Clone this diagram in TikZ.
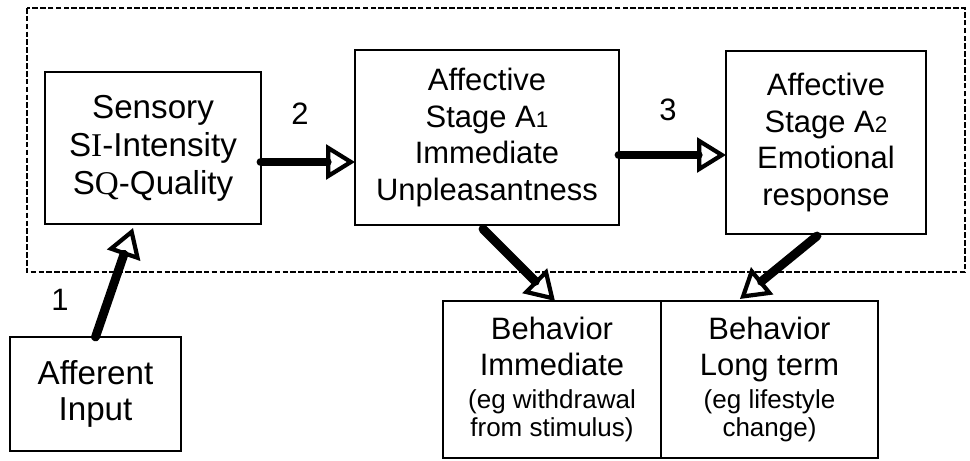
\documentclass[tikz,border=0pt]{standalone}
\usepackage{fontspec}
\setmainfont{Liberation Sans}
\newfontfamily\serifI{Liberation Serif}
\usetikzlibrary{arrows.meta}
\newcommand\subnum[1]{{\fontsize{16}{16}\selectfont #1}}
\newcommand\egfont{\fontsize{18.5}{20.5}\selectfont}
\newcommand\bigfont{\fontsize{23.6}{27}\selectfont}

\begin{document}
\begin{tikzpicture}[
  font=\fontsize{22}{26}\selectfont,
  box/.style={draw, line width=1pt, align=center, inner sep=2pt, outer sep=0pt},
  flow/.style={line width=6.3pt, line cap=round,
    -{Triangle[open, length=0.72cm, width=0.86cm, line width=3pt]}}]
\useasboundingbox (0,0) rectangle (24.25,-11.525);
% dashed frame
\draw[line width=1.3pt, dash pattern=on 4pt off 1.6pt] (0.675,-0.2) rectangle (24.125,-6.8);
\node[box, font=\bigfont, minimum width=5.4cm, minimum height=3.8cm] (sensory) at (3.825,-3.7)
  {Sensory\\S{\serifI I}-Intensity\\S{\serifI Q}-Quality};
\node[box, minimum width=6.6cm, minimum height=4.375cm] (stageA1) at (12.175,-3.4375)
  {Affective\\Stage A\subnum{1}\\Immediate\\Unpleasantness};
\node[box, minimum width=5cm, minimum height=4.575cm] (stageA2) at (20.65,-3.5625)
  {Affective\\Stage A\subnum{2}\\Emotional\\response};
\node[box, font=\bigfont, minimum width=4.275cm, minimum height=2.85cm] (afferent) at (2.3875,-9.85)
  {Afferent\\[-2pt]Input};
\node[box, minimum width=5.45cm, minimum height=3.925cm] (behImm) at (13.8,-9.4875)
  {Behavior\\Immediate\\[-3pt]{\egfont (eg withdrawal}\\[-5.5pt]{\egfont from stimulus)}};
\node[box, minimum width=5.425cm, minimum height=3.925cm] (behLong) at (19.2375,-9.4875)
  {Behavior\\Long term\\[-3pt]{\egfont (eg lifestyle}\\[-5.5pt]{\egfont change)}};
% arrows
\draw[flow] (afferent.north) -- ([xshift=-0.5cm,yshift=-0.1cm]sensory.south);
\draw[flow] ([yshift=-0.35cm]sensory.east) -- ([yshift=-0.35cm]sensory.east -| stageA1.west);
\draw[flow] ([yshift=-0.4375cm]stageA1.east) -- ([yshift=-0.4375cm]stageA1.east -| stageA2.west);
\draw[flow] ([xshift=-0.1cm,yshift=-0.1cm]stageA1.south) -- ([xshift=0.075cm]behImm.north);
\draw[flow] ([xshift=-0.225cm,yshift=-0.05cm]stageA2.south) -- ([xshift=-0.74cm,yshift=0.05cm]behLong.north);
% numbers
\node (n1) at (1.5,-7.5) {1};
\node (n2) at (7.5,-2.85) {2};
\node (n3) at (16.7,-2.75) {3};
\end{tikzpicture}
\end{document}
